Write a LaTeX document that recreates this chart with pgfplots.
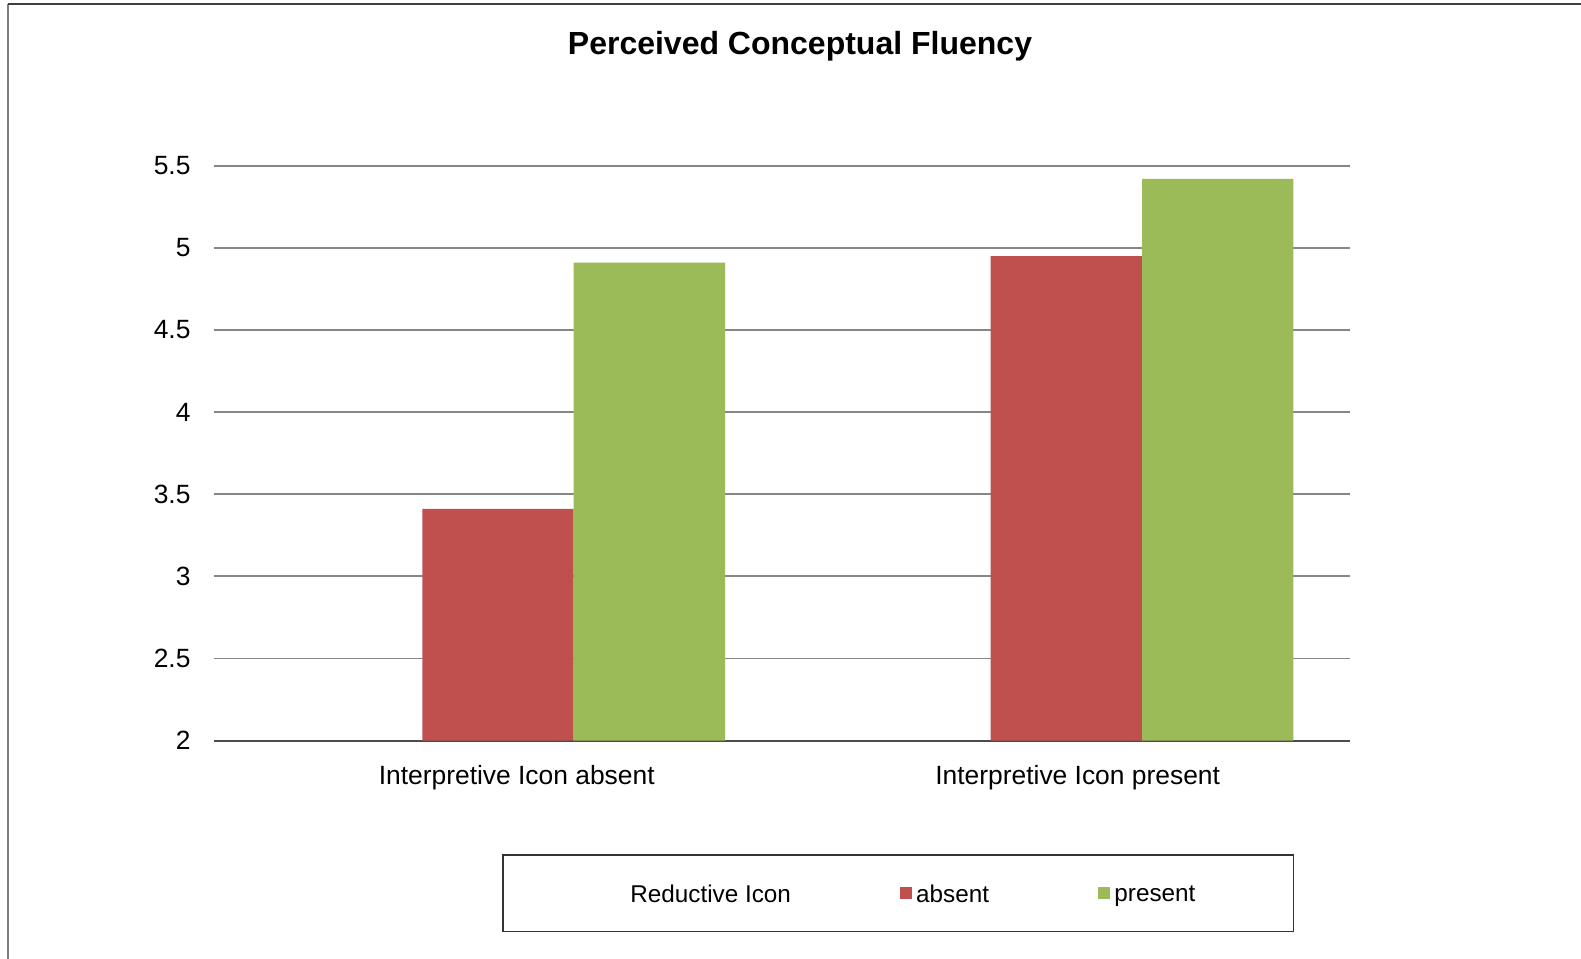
\documentclass[border=0pt]{standalone}
\usepackage{fontspec}
\setmainfont{Liberation Sans}
\usepackage{pgfplots}
\pgfplotsset{compat=1.18}

\definecolor{barred}{HTML}{C0504D}
\definecolor{bargreen}{HTML}{9BBB59}
\definecolor{gridgray}{HTML}{868686}
\definecolor{framegray}{HTML}{7F7F7F}
\definecolor{framedark}{HTML}{3F3F3F}

\begin{document}
\begin{tikzpicture}
\useasboundingbox (0pt,0pt) rectangle (1185.75pt,-718.5pt);

\begin{axis}[
  at={(160.35pt,-555.4pt)}, anchor=south west,
  scale only axis,
  width=852.5pt, height=431.1pt,
  xmin=0, xmax=2, ymin=2, ymax=5.5,
  enlargelimits=false,
  axis x line*=bottom, axis y line*=left,
  x axis line style={draw=black!70, line width=1.5pt, -},
  y axis line style={draw=none},
  ymajorgrids,
  grid style={draw=gridgray, line width=1.4pt},
  major tick length=0pt,
  ytick={2,2.5,3,3.5,4,4.5,5,5.5},
  xtick={0.533,1.52},
  xticklabels={Interpretive Icon absent, Interpretive Icon present},
  /pgf/number format/assume math mode=true,
  tick label style={font=\fontsize{19.8}{24}\selectfont, text=black},
  yticklabel style={anchor=east, inner sep=0pt, xshift=-17.3pt},
  xticklabel style={anchor=base, inner sep=0pt, yshift=-33pt},
  ybar, bar width=0.2664, bar shift=0pt,
  legend columns=-1,
  legend cell align=left,
  legend image code/.code={\fill[#1] (0pt,-3.2pt) rectangle (9.2pt,6pt);},
  legend style={
    draw=none, fill=none, inner sep=0pt,
    font=\fontsize{18.2}{22}\selectfont,
    nodes={inner sep=0pt},
    at={(0.3624,-0.2685)}, anchor=west,
    /tikz/every odd column/.append style={column sep=3.3pt},
    /tikz/every even column/.append style={column sep=81.5pt},
    /tikz/column 2/.append style={column sep=79.6pt},
  },
]
\addlegendimage{empty legend}
\addlegendentry{Reductive Icon}

% Reductive Icon absent
\addplot[fill=barred, draw=none] coordinates {(0.5,3.41) (1.5,4.95)};
\addlegendentry{absent}

% Reductive Icon present
\addplot[fill=bargreen, draw=none] coordinates {(0.7665,4.91) (1.7665,5.42)};
\addlegendentry{present}
\end{axis}

\begin{scope}[x=0.75pt,y=-0.75pt]
  % chart frame
  \draw[framegray, line width=1.6pt] (8.3,960) -- (8.3,4.3);
  \draw[framedark, line width=1.5pt] (7.5,4.3) -- (1590,4.3);
  % title
  \node[anchor=base, inner sep=0pt, font=\fontsize{24}{28}\selectfont\bfseries]
    at (800,54.2) {Perceived Conceptual Fluency};
  % legend box
  \draw[black!80, line width=1pt] (503.1,855) rectangle (1293.4,931.7);
\end{scope}
\end{tikzpicture}
\end{document}
